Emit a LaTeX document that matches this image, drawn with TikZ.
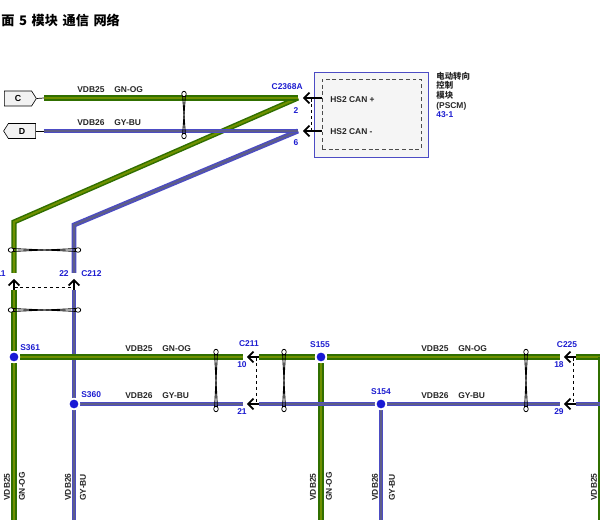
\documentclass[tikz,border=0pt]{standalone}
\usepackage{fontspec}
\setmainfont{Liberation Sans}
\newfontfamily\cjk{Noto Sans CJK SC}
\usetikzlibrary{arrows.meta,shapes.symbols,shapes.geometric}
\definecolor{gnouter}{HTML}{306F00}
\definecolor{gninner}{HTML}{6F9000}
\definecolor{buouter}{HTML}{4C4CC4}
\definecolor{buinner}{HTML}{5E5E88}
\definecolor{pinblue}{HTML}{1C1CD0}
\tikzset{
    gnog/.style={draw=gnouter, line width=0.85pt, double=gninner, double distance=1.2pt},
    gybu/.style={draw=buouter, line width=0.8pt, double=buinner, double distance=1.2pt},
    pin/.style={draw=black, line width=0.6pt, -{Straight Barb[length=3pt,width=6.2pt,line width=1pt]}},
    link/.style={draw=black, line width=0.4pt, dash pattern=on 2pt off 1.4pt},
    twist/.style={draw=black, line width=0.5pt},
    twistend/.style={ellipse, draw=black, fill=white, line width=0.4pt, inner sep=0pt, minimum width=0.09cm, minimum height=0.11cm},
    splice/.style={circle, fill=pinblue!90!blue, draw=white, line width=0.9pt, inner sep=0pt, minimum size=0.215cm},
    wiretext/.style={font=\fontsize{4.8}{5.5}\selectfont\bfseries, text=black!85, inner sep=0pt},
    pintext/.style={font=\fontsize{4.8}{5.5}\selectfont\bfseries, text=pinblue, inner sep=0pt},
    plug/.style={signal, draw=black, fill=black!5, line width=0.35pt, inner sep=0pt, minimum width=0.64cm, minimum height=0.3cm, signal pointer angle=115, font=\fontsize{5}{6}\selectfont\bfseries}
}
\begin{document}
\begin{tikzpicture}[x=0.02cm, y=-0.02cm]
    \clip (0, 0) rectangle (600, 520);
    \node[anchor=west, inner sep=0pt, font=\fontsize{7.5}{8}\selectfont\bfseries\cjk] (title) at (1, 20) {\spaceskip=2.6pt 面 5 模块 通信 网络};

    % module
    \node[draw=buouter, fill=black!4, line width=0.55pt, minimum width=2.28cm, minimum height=1.7cm, inner sep=0pt] (M) at (371, 114.5) {};
    \node[draw=black!70, line width=0.45pt, dash pattern=on 2.2pt off 1.6pt, minimum width=1.98cm, minimum height=1.4cm, inner sep=0pt] (MI) at (371.5, 114) {};
    \node[wiretext, anchor=west] (canp) at (330, 100) {HS2 CAN +};
    \node[wiretext, anchor=west] (canm) at (330, 131.5) {HS2 CAN -};
    \node[wiretext, anchor=north west, align=left] (mname) at (436, 71.5) {{\cjk 电动转向}\\{\cjk 控制}\\{\cjk 模块}\\(PSCM)\\\textcolor{pinblue}{43-1}};

    % plugs
    \node[plug, signal to=east] (C) at (18, 98.5) {C};
    \node[plug, signal to=west] (D) at (22, 131) {D};

    % wire ends
    \coordinate (c0) at (44, 98);
    \coordinate (c1) at (298, 98);
    \coordinate (c2) at (14, 222);
    \coordinate (c3) at (14, 273);
    \coordinate (c4) at (14, 290);
    \coordinate (c5) at (14, 520);
    \coordinate (d0) at (44, 131);
    \coordinate (d1) at (298, 131);
    \coordinate (d2) at (74, 225);
    \coordinate (d3) at (74, 273);
    \coordinate (d4) at (74, 290);
    \coordinate (d5) at (74, 520);
    \coordinate (p1) at (322, 98);
    \coordinate (p2) at (322, 131);
    \coordinate (t1) at (303, 98);
    \coordinate (t2) at (303, 131);
    \coordinate (u1) at (14, 279);
    \coordinate (u2) at (74, 279);
    \coordinate (e1) at (243, 357);
    \coordinate (e2) at (259, 357);
    \coordinate (e3) at (560, 357);
    \coordinate (e4) at (576, 357);
    \coordinate (e5) at (601, 357);
    \coordinate (e6) at (601, 520);
    \coordinate (f1) at (243, 404);
    \coordinate (f2) at (259, 404);
    \coordinate (f3) at (560, 404);
    \coordinate (f4) at (576, 404);
    \coordinate (f5) at (601, 404);
    \coordinate (g1) at (321, 520);
    \coordinate (g2) at (381, 520);
    \coordinate (a1) at (247, 357);
    \coordinate (a2) at (247, 404);
    \coordinate (a3) at (564, 357);
    \coordinate (a4) at (564, 404);
    \coordinate (k1) at (311, 98);
    \coordinate (k2) at (311, 131);
    \coordinate (k3) at (14, 287);
    \coordinate (k4) at (74, 287);
    \coordinate (k5) at (256, 357);
    \coordinate (k6) at (256, 404);
    \coordinate (k7) at (573, 357);
    \coordinate (k8) at (573, 404);

    % splices
    \node[splice] (S361) at (14, 357) {};
    \node[splice] (S360) at (74, 404) {};
    \node[splice] (S155) at (321, 357) {};
    \node[splice] (S154) at (381, 404) {};

    % wires
    \draw[gybu] (d4) -- (S360);
    \draw[gybu] (S360) -- (d5);
    \draw[gybu, line join=miter] (d1) -- (d2) -- (d3);
    \draw[gnog, line join=miter] (c1) -- (c2) -- (c3);
    \draw[gnog] (c0) -- (c1);
    \draw[gybu] (d0) -- (d1);
    \draw[gnog] (c4) -- (S361);
    \draw[gnog] (S361) -- (c5);
    \draw[gnog] (S361) -- (e1);
    \draw[gnog] (e2) -- (S155);
    \draw[gnog] (S155) -- (e3);
    \draw[gnog] (e4) -- (e5);
    \draw[gnog] (e5) -- (e6);
    \draw[gnog] (S155) -- (g1);
    \draw[gybu] (S360) -- (f1);
    \draw[gybu] (f2) -- (S154);
    \draw[gybu] (S154) -- (f3);
    \draw[gybu] (f4) -- (f5);
    \draw[gybu] (S154) -- (g2);
    \node[splice] at (S361) {};
    \node[splice] at (S360) {};
    \node[splice] at (S155) {};
    \node[splice] at (S154) {};

    % plug leads and pins
    \draw[line width=0.4pt] (C.east) -- (c0);
    \draw[line width=0.4pt] (D.east) -- (d0);
    \draw[pin] (p1) -- (t1);
    \draw[pin] (p2) -- (t2);
    \draw[pin] (c4) -- (u1);
    \draw[pin] (d4) -- (u2);
    \draw[pin] (e2) -- (a1);
    \draw[pin] (f2) -- (a2);
    \draw[pin] (e4) -- (a3);
    \draw[pin] (f4) -- (a4);
    \draw[link] (k1) -- (k2);
    \draw[link] (k3) -- (k4);
    \draw[link] (k5) -- (k6);
    \draw[link] (k7) -- (k8);

    % twists
    \foreach \x/\ya/\yb in {184/94/136, 216/352/409, 284/352/409, 526/352/409} {
        \draw[twist] (\x-1.5, \ya) -- (\x+1.5, \yb);
        \draw[twist] (\x+1.5, \ya) -- (\x-1.5, \yb);
        \node[twistend] at (\x, \ya) {};
        \node[twistend] at (\x, \yb) {};
    }
    \foreach \y in {250, 310} {
        \draw[twist] (11, \y-1.5) -- (78, \y+1.5);
        \draw[twist] (11, \y+1.5) -- (78, \y-1.5);
        \node[twistend, rotate=90] at (11, \y) {};
        \node[twistend, rotate=90] at (78, \y) {};
    }

    % wire labels
    \foreach \x/\y/\t in {77/90/VDB25, 114/90/GN-OG, 77/123/VDB26, 114/123/GY-BU,
        125/349/VDB25, 162/349/GN-OG, 125/396/VDB26, 162/396/GY-BU,
        421/349/VDB25, 458/349/GN-OG, 421/396/VDB26, 458/396/GY-BU} {
        \node[wiretext, anchor=west] at (\x, \y) {\t};
    }
    \foreach \x/\t in {7/VDB25, 22/GN-OG, 68/VDB26, 83/GY-BU, 313/VDB25, 329/GN-OG, 375/VDB26, 392/GY-BU, 594/VDB25} {
        \node[wiretext, rotate=90, anchor=west] at (\x, 501) {\t};
    }

    % pin labels
    \node[pintext, anchor=east] (C2368A) at (303, 87) {C2368A};
    \node[pintext] (n2) at (296, 111) {2};
    \node[pintext] (n6) at (296, 143) {6};
    \node[pintext, anchor=east] (n11) at (6, 274) {11};
    \node[pintext, anchor=east] (n22) at (69, 274) {22};
    \node[pintext, anchor=west] (C212) at (81, 274) {C212};
    \node[pintext, anchor=west] (lS361) at (20, 348) {S361};
    \node[pintext, anchor=west] (lS360) at (81, 395) {S360};
    \node[pintext] (C211) at (249, 344) {C211};
    \node[pintext] (n10) at (242, 365) {10};
    \node[pintext] (n21) at (242, 412) {21};
    \node[pintext] (lS155) at (320, 345) {S155};
    \node[pintext] (lS154) at (381, 392) {S154};
    \node[pintext] (C225) at (567, 345) {C225};
    \node[pintext] (n18) at (559, 365) {18};
    \node[pintext] (n29) at (559, 412) {29};
\end{tikzpicture}
\end{document}
